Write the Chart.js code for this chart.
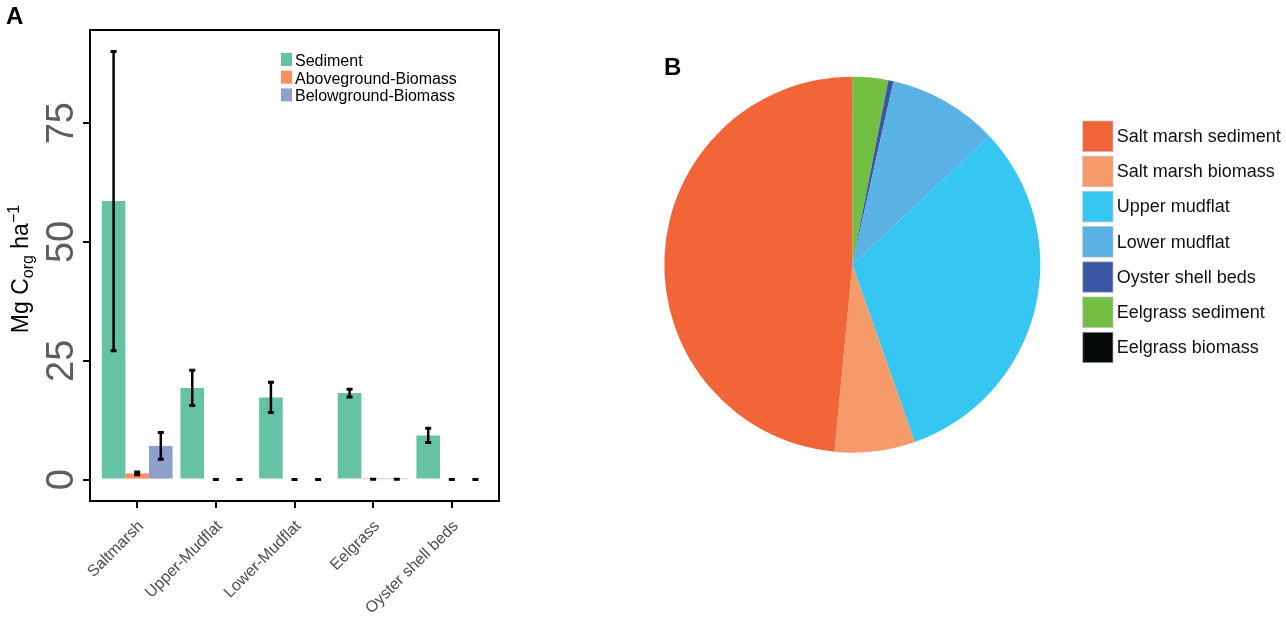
<!DOCTYPE html>
<html>
<head>
<meta charset="utf-8">
<script src="https://cdn.jsdelivr.net/npm/chart.js@4.4.1/dist/chart.umd.min.js"></script>
<style>
    html, body { margin: 0; padding: 0; background: #ffffff; }
    #wrapA { position: absolute; left: 0; top: 0; width: 640px; height: 627px; }
    #wrapB { position: absolute; left: 640px; top: 0; width: 646px; height: 627px; }
</style>
</head>
<body>
<div id="wrapA"><canvas id="barChart"></canvas></div>
<div id="wrapB"><canvas id="pieChart"></canvas></div>
<script>
const FONT = "'Liberation Sans', Arial, Helvetica, sans-serif";

// ── Panel A data ─────────────────────────────────────────────────────────────
const habitats = ['Saltmarsh', 'Upper-Mudflat', 'Lower-Mudflat', 'Eelgrass', 'Oyster shell beds'];
const seriesNames = ['Sediment', 'Aboveground-Biomass', 'Belowground-Biomass'];
const seriesColors = ['#66c2a5', '#fc8d62', '#8da0cb'];
const sediment = [58.6, 19.3, 17.3, 18.2, 9.3];
const sedimentErr = [31.5, 3.7, 3.2, 0.8, 1.5];
const aboveground = [1.3, 0, 0, 0.1, 0];
const abovegroundErr = [0.3, 0, 0, 0, 0];
const belowground = [7.1, 0, 0, 0.1, 0];
const belowgroundErr = [2.8, 0, 0, 0, 0];
const yTicks = [0, 25, 50, 75];

// ── Panel B data ─────────────────────────────────────────────────────────────
const pieLabels = ['Salt marsh sediment', 'Salt marsh biomass', 'Upper mudflat', 'Lower mudflat',
    'Oyster shell beds', 'Eelgrass sediment', 'Eelgrass biomass'];
const pieValues = [48.5, 6.9, 31.6, 9.5, 0.45, 3.05, 0.02];
const pieColors = ['#f26539', '#f79a6a', '#36c6f2', '#59b2e3', '#3c56a6', '#72bf44', '#050808'];

const seriesValues = [sediment, aboveground, belowground];
const seriesErrors = [sedimentErr, abovegroundErr, belowgroundErr];

// Error bars, frame, rotated y labels, axis title, inset legend, panel letter.
const barDecor = {
    id: 'barDecor',
    afterDatasetsDraw(chart) {
        const ctx = chart.ctx, y = chart.scales.y;
        ctx.save();
        ctx.strokeStyle = '#000';
        chart.data.datasets.forEach((ds, i) => {
            chart.getDatasetMeta(i).data.forEach((bar, j) => {
                const v = ds.data[j].y, e = ds.errors[j];
                const yTop = y.getPixelForValue(v + e), yBot = y.getPixelForValue(v - e);
                ctx.lineWidth = 2.5;
                ctx.beginPath();
                ctx.moveTo(bar.x, yTop); ctx.lineTo(bar.x, yBot);
                ctx.stroke();
                ctx.lineWidth = 3;
                ctx.beginPath();
                ctx.moveTo(bar.x - 3, yTop); ctx.lineTo(bar.x + 3, yTop);
                ctx.moveTo(bar.x - 3, yBot); ctx.lineTo(bar.x + 3, yBot);
                ctx.stroke();
            });
        });
        ctx.restore();
    },
    afterDraw(chart) {
        const ctx = chart.ctx, a = chart.chartArea, y = chart.scales.y;
        ctx.save();
        // frame
        ctx.strokeStyle = '#000';
        ctx.lineWidth = 2;
        ctx.strokeRect(a.left, a.top, a.right - a.left, a.bottom - a.top);

        // y tick labels, rotated
        ctx.fillStyle = '#5e5e5e';
        ctx.font = `38px ${FONT}`;
        ctx.textAlign = 'center';
        ctx.textBaseline = 'alphabetic';
        y.ticks.forEach(t => {
            ctx.save();
            ctx.translate(73, y.getPixelForValue(t.value));
            ctx.rotate(-Math.PI / 2);
            ctx.fillText(String(t.value), 0, 0);
            ctx.restore();
        });

        // y axis title: Mg C_org ha^-1
        const big = `23px ${FONT}`, small = `16px ${FONT}`;
        const parts = [['Mg C', big, 0], ['org', small, 5], [' ha', big, 0], ['\u22121', small, -9]];
        let total = 0;
        parts.forEach(p => { ctx.font = p[1]; total += ctx.measureText(p[0]).width; });
        ctx.save();
        ctx.translate(28, 269);
        ctx.rotate(-Math.PI / 2);
        ctx.fillStyle = '#000';
        ctx.textAlign = 'left';
        let x = -total / 2;
        parts.forEach(p => {
            ctx.font = p[1];
            ctx.fillText(p[0], x, p[2]);
            x += ctx.measureText(p[0]).width;
        });
        ctx.restore();

        // inset legend
        ctx.font = `16px ${FONT}`;
        ctx.textAlign = 'left';
        seriesNames.forEach((name, i) => {
            const top = 53 + i * 17.7;
            ctx.fillStyle = seriesColors[i];
            ctx.fillRect(281, top, 11, 13);
            ctx.fillStyle = '#000';
            ctx.fillText(name, 295, top + 13);
        });

        // panel letter
        ctx.fillStyle = '#000';
        ctx.font = `bold 24px ${FONT}`;
        ctx.fillText('A', 6, 24);
        ctx.restore();
    },
};

// Linear x from -0.6 to 4.6 reproduces ggplot's discrete-axis expansion.
new Chart(document.getElementById('barChart'), {
    type: 'bar',
    data: {
        datasets: seriesValues.map((d, i) => ({
            label: seriesNames[i],
            data: d.map((v, j) => ({ x: j, y: v })),
            errors: seriesErrors[i],
            backgroundColor: seriesColors[i],
            borderWidth: 0,
            barPercentage: 1,
            categoryPercentage: 0.9,
        })),
    },
    options: {
        responsive: true,
        maintainAspectRatio: false,
        animation: false,
        events: [],
        layout: { padding: { left: 0, top: 30, right: 141, bottom: 0 } },
        scales: {
            x: {
                type: 'linear',
                min: -0.6,
                max: 4.6,
                offset: false,
                afterBuildTicks: s => { s.ticks = habitats.map((_, i) => ({ value: i })); },
                grid: { offset: false, drawOnChartArea: false, tickLength: 7, color: '#000', lineWidth: 2 },
                border: { display: false },
                ticks: {
                    color: '#4d4d4d', font: { family: FONT, size: 16 },
                    minRotation: 45, maxRotation: 45, padding: 9, labelOffset: 4,
                    callback: v => habitats[v],
                },
                afterFit: s => { s.height = 126; },
            },
            y: {
                min: -4.5,
                max: 94.6,
                afterBuildTicks: s => { s.ticks = yTicks.map(v => ({ value: v })); },
                grid: { drawOnChartArea: false, tickLength: 7, color: '#000', lineWidth: 2 },
                border: { display: false },
                ticks: { color: 'rgba(0,0,0,0)', font: { size: 10 } },
                afterFit: s => { s.width = 90; },
            },
        },
        plugins: { legend: { display: false }, tooltip: { enabled: false } },
    },
    plugins: [barDecor],
});

// Legend and panel letter for the pie.
const pieDecor = {
    id: 'pieDecor',
    afterDraw(chart) {
        const ctx = chart.ctx;
        ctx.save();
        ctx.font = `18px ${FONT}`;
        ctx.textAlign = 'left';
        ctx.textBaseline = 'middle';
        pieLabels.forEach((name, i) => {
            const top = 121 + i * 35.2;
            ctx.fillStyle = pieColors[i];
            ctx.fillRect(442.7, top, 30.3, 30.5);
            ctx.strokeStyle = 'rgba(190,190,190,0.7)';
            ctx.lineWidth = 1;
            ctx.strokeRect(442.7, top, 30.3, 30.5);
            ctx.fillStyle = '#111';
            ctx.fillText(name, 476.7, top + 16);
        });
        ctx.textBaseline = 'alphabetic';
        ctx.font = `bold 24px ${FONT}`;
        ctx.fillStyle = '#000';
        ctx.fillText('B', 24, 75);
        ctx.restore();
    },
};

// Slices run anticlockwise from 12 o'clock in the figure, so feed them reversed.
new Chart(document.getElementById('pieChart'), {
    type: 'pie',
    data: {
        labels: [...pieLabels].reverse(),
        datasets: [{
            data: [...pieValues].reverse(),
            backgroundColor: [...pieColors].reverse(),
            borderWidth: 0,
        }],
    },
    options: {
        responsive: true,
        maintainAspectRatio: false,
        animation: false,
        events: [],
        layout: { padding: { left: 24.3, top: 76.7, right: 245.7, bottom: 174.3 } },
        plugins: { legend: { display: false }, tooltip: { enabled: false } },
    },
    plugins: [pieDecor],
});
</script>
</body>
</html>
